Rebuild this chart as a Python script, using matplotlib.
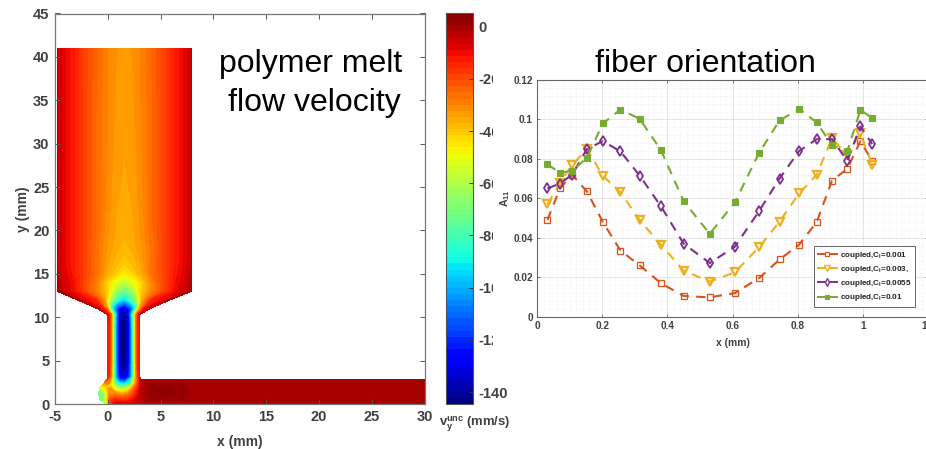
#!/usr/bin/python3

import numpy as np
import matplotlib
matplotlib.use('Agg')
import matplotlib.pyplot as plt
from matplotlib.lines import Line2D
from matplotlib.ticker import MultipleLocator
from matplotlib.transforms import Bbox, TransformedBbox, IdentityTransform

# right panel: fiber orientation
x_fiber = [0.032, 0.07, 0.108, 0.153, 0.202, 0.256, 0.315, 0.38, 0.45, 0.53,
           0.607, 0.681, 0.744, 0.804, 0.858, 0.905, 0.952, 0.992, 1.028]
a11_001 = [0.049, 0.065, 0.072, 0.0635, 0.048, 0.0335, 0.026, 0.017, 0.0105, 0.0098,
           0.012, 0.0195, 0.029, 0.0365, 0.048, 0.069, 0.075, 0.089, 0.079]
a11_003 = [0.057, 0.068, 0.077, 0.085, 0.0715, 0.063, 0.049, 0.0365, 0.0233, 0.0178,
           0.0225, 0.0352, 0.0482, 0.0625, 0.072, 0.0905, 0.082, 0.093, 0.077]
a11_0055 = [0.065, 0.0675, 0.072, 0.085, 0.089, 0.0838, 0.0715, 0.056, 0.037, 0.0272,
            0.0355, 0.0535, 0.07, 0.084, 0.09, 0.09, 0.079, 0.0965, 0.0875]
a11_01 = [0.0772, 0.073, 0.074, 0.0805, 0.098, 0.105, 0.1003, 0.0845, 0.0585, 0.042,
          0.058, 0.083, 0.0995, 0.1053, 0.0985, 0.087, 0.084, 0.1048, 0.1008]
labels_fiber = ['coupled,C$_{\\mathbf{I}}$=0.001', 'coupled,C$_{\\mathbf{I}}$=0.003,',
                'coupled,C$_{\\mathbf{I}}$=0.0055', 'coupled,C$_{\\mathbf{I}}$=0.01']

# left panel: velocity read on a coarse mesh, half of the width (wall to centre line)
s_half = [0, 0.05, 0.12, 0.2, 0.3, 0.38, 0.44, 0.5]
y_upper = [41, 33, 25, 20, 18, 16, 15, 14, 13, 12, 11, 10.3, 10, 9, 7, 5, 4, 3]
x_wall_left = [-4.8, -4.8, -4.8, -4.8, -4.8, -4.8, -4.8, -4.8, -4.8, -2.9, -1, 0, 0, 0, 0, 0, 0, 0]
x_wall_right = [7.95, 7.95, 7.95, 7.95, 7.95, 7.95, 7.95, 7.95, 7.95, 5.9, 4, 3, 3, 3, 3, 3, 3, 3]
v_upper = [
    [-4, -8, -13, -19, -25, -30, -32, -33],
    [-4, -8, -13, -19, -26, -30, -33, -34],
    [-4, -8, -13, -19, -26, -31, -34, -35],
    [-4, -8, -13, -19, -26, -32, -35, -36],
    [-4, -8, -13, -19, -27, -33, -36, -38],
    [-4, -8, -13, -19, -27, -35, -39, -42],
    [-3, -7, -12, -19, -27, -37, -42, -47],
    [-2, -6, -11, -19, -30, -44, -52, -58],
    [0, -5, -10, -19, -30, -42, -65, -75],
    [-2, -8, -11, -14, -35, -68, -85, -95],
    [-4, -8, -14, -35, -95, -118, -128, -132],
    [-8, -14, -32, -75, -112, -132, -140, -142],
    [-10, -14, -32, -78, -116, -134, -142, -144],
    [-12, -14, -32, -80, -118, -135, -142, -144],
    [-12, -14, -32, -80, -118, -135, -142, -144],
    [-12, -14, -32, -80, -118, -135, -142, -144],
    [-12, -16, -34, -80, -116, -132, -138, -140],
    [-14, -18, -36, -80, -112, -126, -130, -132],
]

# bottom of the channel with the bulge on its left side
s_foot = [0, 0.12, 0.25, 0.4, 0.55, 0.7, 0.85, 1]
y_foot = [3, 2.4, 1.8, 1.2, 0.6, 0]
x_foot_left = [0, -0.35, -0.8, -0.85, -0.8, -0.2]
x_foot_right = 3.1
v_foot = [
    [-14, -40, -100, -130, -130, -100, -35, -6],
    [-30, -28, -58, -90, -98, -85, -35, -6],
    [-60, -50, -32, -55, -62, -52, -25, -5],
    [-75, -68, -32, -30, -35, -30, -18, -4],
    [-75, -65, -22, -16, -20, -17, -10, -3],
    [-60, -25, -8, -6, -6, -5, -3, -3],
]

# runner
x_run = [3.1, 4, 5, 6, 7, 8.5, 10, 15, 30]
y_run = [0, 0.75, 1.5, 2.25, 2.85]
v_run = [
    [-3, -1, -1, -1, -1, -1, 0, 0, 0],
    [-3, 1, 2, 2, 1, -0.5, 0, 0, 0],
    [-3, 2.5, 3.5, 3.5, 2, -0.5, 0, 0, 0],
    [-3, 1, 2, 2, 1, -0.5, 0, 0, 0],
    [-4, -1, -1, -1, -1, -1, -1, -1, -1],
]

cbar_ticks = [0, -20, -40, -60, -80, -100, -120, -140]
W, H = 926, 449
DARK = '#404040'

plt.rcParams['font.family'] = ['Liberation Sans', 'DejaVu Sans']
plt.rcParams['axes.unicode_minus'] = False
plt.rcParams['mathtext.fontset'] = 'custom'
plt.rcParams['mathtext.bf'] = 'Liberation Sans:bold'
plt.rcParams['mathtext.rm'] = 'Liberation Sans:bold'
plt.rcParams['mathtext.it'] = 'Liberation Sans:bold'


def pos(x0, y0, x1, y1):
    # pixel box (y from the top) to figure fractions
    return [x0/W, 1-y1/H, (x1-x0)/W, (y1-y0)/H]


def main():
    fig = plt.figure(figsize=(W/100, H/100), dpi=100)

    ax = fig.add_axes(pos(55, 13.5, 424.5, 404))
    levels = np.linspace(-144.6, 5.3, 65)

    s = np.array(s_half + [1-v for v in s_half[-2::-1]])
    vv = np.array(v_upper, float)
    vv = np.hstack([vv, vv[:, -2::-1]])
    yy = np.array(y_upper, float)
    xl = np.array(x_wall_left, float)
    xr = np.array(x_wall_right, float)
    X = xl[:, None] + s[None, :]*(xr-xl)[:, None]
    Y = np.repeat(yy[:, None], len(s), axis=1)
    cf = ax.contourf(X, Y, vv, levels=levels, cmap='jet', antialiased=False)

    sf = np.array(s_foot)
    xfl = np.array(x_foot_left)
    Xf = xfl[:, None] + sf[None, :]*(x_foot_right-xfl)[:, None]
    Yf = np.repeat(np.array(y_foot)[:, None], len(sf), axis=1)
    ax.contourf(Xf, Yf, np.array(v_foot, float), levels=levels, cmap='jet', antialiased=False)

    Xr, Yr = np.meshgrid(x_run, y_run)
    ax.contourf(Xr, Yr, np.array(v_run, float), levels=levels, cmap='jet', antialiased=False)

    ax.set_xlim(-5, 30)
    ax.set_ylim(0, 45)
    ax.set_xticks(np.arange(-5, 31, 5))
    ax.set_yticks(np.arange(0, 46, 5))
    ax.tick_params(direction='in', top=True, right=True, length=3.5, width=0.7, color='#555555',
                   labelsize=10.5, labelcolor=DARK, pad=4)
    for lab in ax.get_xticklabels()+ax.get_yticklabels():
        lab.set_fontweight('bold')
    for sp in ax.spines.values():
        sp.set_color('#777777')
        sp.set_linewidth(0.9)
    ax.set_xlabel('x (mm)', fontsize=10, fontweight='bold', color=DARK, labelpad=8)
    ax.set_ylabel('y (mm)', fontsize=10, fontweight='bold', color=DARK, labelpad=2)

    cax = fig.add_axes(pos(446, 13, 473, 404))
    cb = fig.colorbar(cf, cax=cax)
    cb.set_ticks(cbar_ticks)
    cax.tick_params(direction='in', length=3, width=0.7, color='#333333', labelsize=10.5,
                    labelcolor=DARK, pad=4)
    cb.outline.set_edgecolor('#555555')
    cb.outline.set_linewidth(0.8)
    cb.set_ticklabels([str(t) for t in cbar_ticks])
    fig.canvas.draw()
    clip = TransformedBbox(Bbox([[470, 60], [492.5, 449]]), IdentityTransform())
    for lab in cax.get_yticklabels():
        lab.set_fontweight('bold')
        if lab.get_text() not in ('0', '-140'):
            lab.set_clip_box(clip)
            lab.set_clip_on(True)
    fig.text(474.5/W, 1-426/H, r'$\mathbf{v_y^{unc}}$ (mm/s)', ha='center', va='baseline',
             fontsize=9.4, fontweight='bold', color=DARK)

    # fiber orientation
    ax2 = fig.add_axes(pos(537, 80, 928.2, 316.7))
    ax2.set_xlim(0, 1.2)
    ax2.set_ylim(0, 0.12)
    c_red, c_yel, c_pur, c_gre = '#D95319', '#EDB120', '#7E2F8E', '#77AC30'
    dash = (0, (4.5, 3.5))
    ax2.plot(x_fiber, a11_001, ls=dash, color=c_red, lw=1.5, marker='s', ms=4, mfc='none', mew=0.9)
    ax2.plot(x_fiber, a11_003, ls=dash, color=c_yel, lw=1.5, marker='v', ms=5.4, mfc='none', mew=1.6)
    ax2.plot(x_fiber, a11_0055, ls=dash, color=c_pur, lw=1.5, marker='d', ms=5.2, mfc='none', mew=1.3)
    ax2.plot(x_fiber, a11_01, ls=dash, color=c_gre, lw=1.5, marker='s', ms=4.2, mfc=c_gre, mew=0.8)

    ax2.set_xticks(np.arange(0, 1.21, 0.2))
    ax2.set_xticklabels(['0', '0.2', '0.4', '0.6', '0.8', '1', '1.2'])
    ax2.set_yticks(np.arange(0, 0.121, 0.02))
    ax2.set_yticklabels(['0', '0.02', '0.04', '0.06', '0.08', '0.1', '0.12'])
    ax2.xaxis.set_minor_locator(MultipleLocator(0.02))
    ax2.yaxis.set_minor_locator(MultipleLocator(0.004))
    ax2.grid(which='major', color='#e2e2e2', lw=0.6)
    ax2.grid(which='minor', color='#ececec', lw=0.5, ls=':')
    ax2.set_axisbelow(True)
    ax2.tick_params(which='major', direction='in', top=True, right=True, length=2.5, width=0.6,
                    color='#666666', labelsize=7.2, labelcolor=DARK, pad=3)
    ax2.tick_params(which='minor', length=0)
    for lab in ax2.get_xticklabels()+ax2.get_yticklabels():
        lab.set_fontweight('bold')
    for sp in ax2.spines.values():
        sp.set_color('#666666')
        sp.set_linewidth(0.8)
    ax2.set_xlabel('x (mm)', fontsize=7.4, fontweight='bold', color=DARK, labelpad=5)
    ax2.set_ylabel('A$_{\\mathbf{11}}$', fontsize=7.6, fontweight='bold', color=DARK, labelpad=1)

    handles = [Line2D([], [], color=c_red, lw=1.4, marker='s', ms=3.4, mfc='white', mew=0.8),
               Line2D([], [], color=c_yel, lw=1.4, marker='v', ms=4.2, mfc='white', mew=1.0),
               Line2D([], [], color=c_pur, lw=1.4, marker='d', ms=4.2, mfc='white', mew=1.0),
               Line2D([], [], color=c_gre, lw=1.4, marker='s', ms=3.4, mfc=c_gre, mew=0.8)]
    leg = ax2.legend(handles, labels_fiber, loc='lower left', fontsize=5.8, fancybox=False,
                     framealpha=1, edgecolor='#666666', borderpad=0.45, labelspacing=0.4,
                     handlelength=2.35, handletextpad=0.38,
                     bbox_to_anchor=((814-537)/391.2, (316.7-307)/236.7), borderaxespad=0)
    leg.get_frame().set_linewidth(0.7)
    for t in leg.get_texts():
        t.set_fontweight('bold')
        t.set_color('#222222')

    fig.text(402/W, 1-72/H, 'polymer melt', ha='right', va='baseline', fontsize=23, color='black')
    fig.text(401/W, 1-111/H, 'flow velocity', ha='right', va='baseline', fontsize=23, color='black')
    fig.text(705/W, 1-72/H, 'fiber orientation', ha='center', va='baseline', fontsize=23, color='black')

    fig.savefig('out.png', dpi=100)


if __name__ == '__main__':
    main()
